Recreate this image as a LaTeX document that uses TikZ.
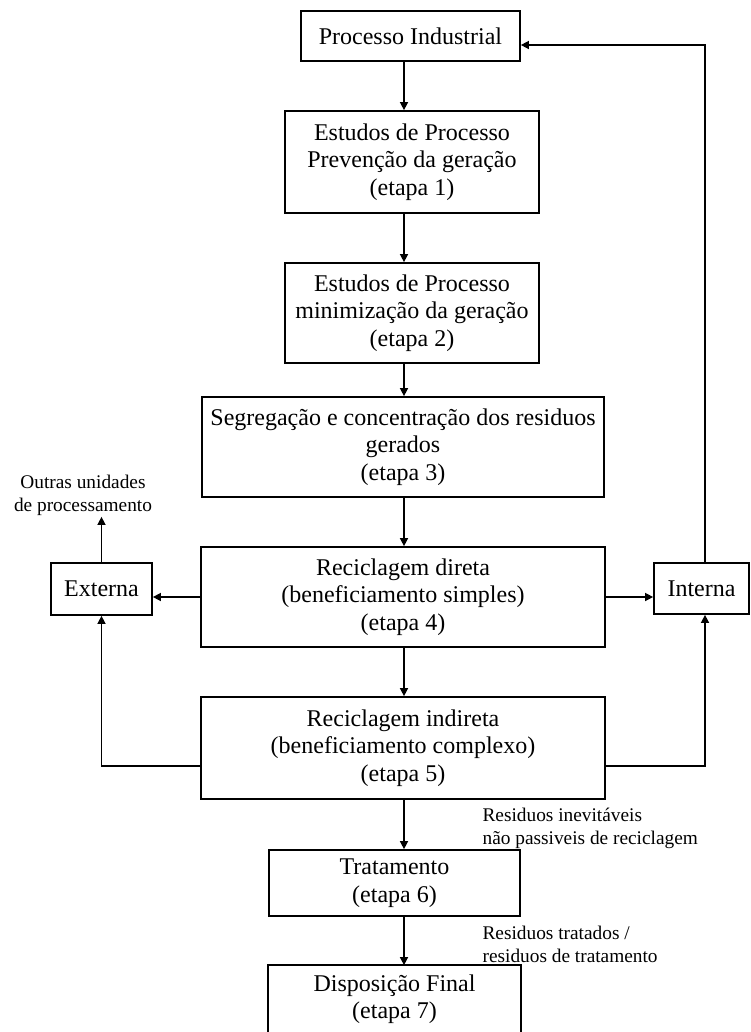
\documentclass[tikz,border=0pt]{standalone}
\usepackage{fontspec}
\setmainfont{Liberation Serif}
\usetikzlibrary{arrows.meta}
\begin{document}
\begin{tikzpicture}[x=0.75pt,y=-0.75pt,
  box/.style={draw,line width=1.3pt,align=center,inner sep=0pt,
    font=\fontsize{18pt}{20.6pt}\selectfont},
  lbl/.style={align=left,inner sep=1pt,font=\fontsize{14.5pt}{17.25pt}\selectfont},
  arr/.style={line width=1.1pt,-{Triangle[length=6pt,width=6pt]}},
  ln/.style={line width=1.1pt}]
\useasboundingbox[fill=white] (0,0) rectangle (750,1032);
\begin{scope}
\clip (0,0) rectangle (750,1032);
\node[box,minimum width=164.25pt,minimum height=37.5pt] (proc) at (410.5,36) {Processo Industrial};
\node[box,minimum width=190.5pt,minimum height=76.5pt] (e1) at (412,162)
  {Estudos de Processo\\Prevenção da geração\\(etapa 1)};
\node[box,minimum width=190.5pt,minimum height=75pt] (e2) at (412,313)
  {Estudos de Processo\\minimização da geração\\(etapa 2)};
\node[box,minimum width=301.5pt,minimum height=75pt] (e3) at (403,447)
  {Segregação e concentração dos residuos\\gerados\\(etapa 3)};
\node[box,minimum width=303pt,minimum height=75pt] (e4) at (403,597)
  {Reciclagem direta\\(beneficiamento simples)\\(etapa 4)};
\node[box,minimum width=303pt,minimum height=76.5pt] (e5) at (403,748)
  {Reciclagem indireta\\(beneficiamento complexo)\\(etapa 5)};
\node[box,minimum width=188.25pt,minimum height=49.5pt] (trat) at (394.5,883)
  {Tratamento\\(etapa 6)};
\node[box,draw=none,minimum width=188.25pt,minimum height=49.5pt] (disp) at (394.5,999)
  {Disposição Final\\(etapa 7)};
\draw[line width=1.3pt] (disp.south west) -- (disp.north west) -- (disp.north east) -- (disp.south east);
\node[box,minimum width=75.75pt,minimum height=39pt] (ext) at (101.5,589) {Externa};
\node[box,minimum width=71.25pt,minimum height=38.25pt] (int) at (701.5,588.5) {Interna};
\node[lbl,align=center] (outras) at (83,495) {Outras unidades\\de processamento};
\node[lbl,anchor=west] (inev) at (481,828.5) {Residuos inevitáveis\\não passiveis de reciclagem};
\node[lbl,anchor=west] (trl) at (481,944) {Residuos tratados /\\residuos de tratamento};

\coordinate (ax) at (404,0);
\coordinate (fx) at (705,0);
\coordinate (ly) at (0,766);
\coordinate (fy) at (0,45);
\coordinate (ey) at (0,597);

\draw[arr] (ax |- proc.south) -- (ax |- e1.north);
\draw[arr] (ax |- e1.south) -- (ax |- e2.north);
\draw[arr] (ax |- e2.south) -- (ax |- e3.north);
\draw[arr] (ax |- e3.south) -- (ax |- e4.north);
\draw[arr] (ax |- e4.south) -- (ax |- e5.north);
\draw[arr] (ax |- e5.south) -- (ax |- trat.north);
\draw[arr] (ax |- trat.south) -- (ax |- disp.north);
\draw[arr] (e4.west |- ey) -- (ext.east |- ey);
\draw[arr] (e4.east |- ey) -- (int.west |- ey);
\draw[arr] (ext.north) -- (ext.north |- outras.south);
\draw[arr] (e5.west |- ly) -| (ext.south);
\draw[arr] (e5.east |- ly) -| (fx |- int.south);
\draw[arr] (fx |- int.north) |- (proc.east |- fy);
\end{scope}
\end{tikzpicture}
\end{document}
